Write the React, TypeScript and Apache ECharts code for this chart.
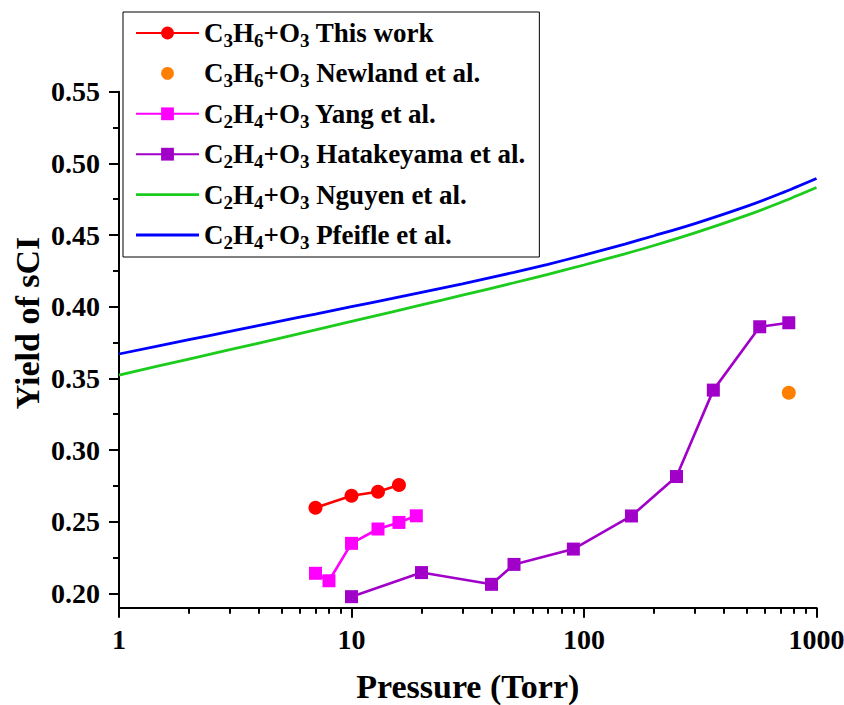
import React, { useEffect, useRef } from "react";
import * as echarts from "echarts";

const FONT = "Liberation Serif";

// Data
const thisWorkP = [7, 10, 13, 16];
const thisWorkY = [0.2597, 0.2681, 0.2709, 0.2756];
const newlandP = [760];
const newlandY = [0.34];
const yangP = [7, 8, 10, 13, 16, 19];
const yangY = [0.214, 0.2088, 0.2349, 0.2449, 0.2495, 0.2541];
const hataP = [10, 20, 40, 50, 90, 160, 250, 360, 570, 760];
const hataY = [0.1977, 0.2145, 0.2063, 0.2202, 0.2309, 0.254, 0.2815, 0.3418, 0.386, 0.3888];
const curveP = [1, 2, 3, 5, 7, 10, 15, 20, 30, 50, 70, 100, 150, 200, 300, 500, 700, 1000];
const nguyenY = [0.3523, 0.3635, 0.37, 0.3783, 0.3838, 0.3897, 0.3964, 0.4012, 0.408, 0.4167, 0.4226, 0.4291, 0.4369, 0.4427, 0.4515, 0.4637, 0.4727, 0.4832];
const pfeifleY = [0.367, 0.377, 0.3828, 0.3901, 0.3949, 0.4, 0.4058, 0.41, 0.416, 0.424, 0.4296, 0.436, 0.4437, 0.4495, 0.458, 0.47, 0.479, 0.4895];

const seriesNames = [
  "C3H6+O3 This work",
  "C3H6+O3 Newland et al.",
  "C2H4+O3 Yang et al.",
  "C2H4+O3 Hatakeyama et al.",
  "C2H4+O3 Nguyen et al.",
  "C2H4+O3 Pfeifle et al.",
];

const yMajorTicks = [0.2, 0.25, 0.3, 0.35, 0.4, 0.45, 0.5, 0.55];
const yMinorTicks = [0.225, 0.275, 0.325, 0.375, 0.425, 0.475, 0.525];
const xMinorTicks = [2, 3, 4, 5, 6, 7, 8, 9, 20, 30, 40, 50, 60, 70, 80, 90, 200, 300, 400, 500, 600, 700, 800, 900];

const xTitle = "Pressure (Torr)";
const yTitle = "Yield of sCI";

const pairs = (xs: number[], ys: number[]) => xs.map((x, i) => [x, ys[i]]);

const LINE_ICON = "path://M0,0 H63 V2.8 H0 Z";

export default function App() {
  const ref = useRef<HTMLDivElement>(null);
  useEffect(() => {
    document.body.style.margin = "0";
    const chart = echarts.init(ref.current!, null, { renderer: "svg" });
    const axisLineStyle = { color: "#000", width: 2 };
    const option: any = {
      animation: false,
      backgroundColor: "#fff",
      grid: { left: 119, right: 27.5, top: 91.7, bottom: 97.3, containLabel: false, outerBoundsMode: "none" },
      legend: {
        orient: "vertical",
        left: 123,
        top: 12,
        padding: [4, 14, 5, 12],
        itemGap: 6.4,
        itemWidth: 63,
        itemHeight: 16,
        backgroundColor: "#fff",
        borderColor: "#000",
        borderWidth: 1,
        borderRadius: 0,
        data: seriesNames.map((n, i) => (i >= 4 ? { name: n, icon: LINE_ICON } : { name: n })),
        formatter: (name: string) => name.replace(/([A-Z])(\d)/g, "$1{s|$2}"),
        textStyle: {
          fontFamily: FONT,
          fontSize: 27,
          fontWeight: "bold",
          color: "#000",
          lineHeight: 34,
          rich: {
            s: {
              fontFamily: FONT,
              fontSize: 19,
              fontWeight: "bold",
              color: "#000",
              lineHeight: 16,
              verticalAlign: "bottom",
            },
          },
        },
      },
      xAxis: [
        {
          type: "log",
          logBase: 10,
          min: 1,
          max: 1000,
          name: xTitle,
          nameLocation: "middle",
          nameGap: 62,
          nameTextStyle: { fontFamily: FONT, fontSize: 34, fontWeight: "bold", color: "#000" },
          axisLine: { show: true, lineStyle: axisLineStyle },
          axisTick: { show: true, length: 10, lineStyle: axisLineStyle },
          axisLabel: {
            fontFamily: FONT,
            fontSize: 28,
            fontWeight: "bold",
            color: "#000",
            margin: 18,
            formatter: (v: number) => String(Math.round(v)),
          },
          splitLine: { show: false },
          minorTick: { show: false },
        },
        {
          type: "log",
          logBase: 10,
          min: 1,
          max: 1000,
          position: "bottom",
          axisLine: { show: false },
          axisTick: { show: true, length: 6, lineStyle: axisLineStyle, customValues: xMinorTicks },
          axisLabel: { show: false },
          splitLine: { show: false },
        },
      ],
      yAxis: [
        {
          type: "value",
          min: 0.19,
          max: 0.55,
          axisLine: { show: true, lineStyle: axisLineStyle },
          axisTick: { show: true, length: 10, lineStyle: axisLineStyle, customValues: yMajorTicks },
          axisLabel: {
            fontFamily: FONT,
            fontSize: 28,
            fontWeight: "bold",
            color: "#000",
            margin: 19,
            customValues: yMajorTicks,
            formatter: (v: number) => v.toFixed(2),
          },
          splitLine: { show: false },
        },
        {
          type: "value",
          min: 0.19,
          max: 0.55,
          position: "left",
          axisLine: { show: false },
          axisTick: { show: true, length: 6, lineStyle: axisLineStyle, customValues: yMinorTicks },
          axisLabel: { show: false },
          splitLine: { show: false },
        },
      ],
      graphic: [
        {
          type: "text",
          x: 27,
          y: 323,
          rotation: Math.PI / 2,
          style: {
            text: yTitle,
            fontFamily: FONT,
            fontSize: 34,
            fontWeight: "bold",
            fill: "#000",
            align: "center",
            verticalAlign: "middle",
          },
        },
      ],
      series: [
        {
          name: seriesNames[4],
          type: "line",
          data: pairs(curveP, nguyenY),
          symbol: "none",
          smooth: 0.3,
          lineStyle: { color: "#1ccc1c", width: 2.8 },
          itemStyle: { color: "#1ccc1c" },
          z: 2,
        },
        {
          name: seriesNames[5],
          type: "line",
          data: pairs(curveP, pfeifleY),
          symbol: "none",
          smooth: 0.3,
          lineStyle: { color: "#0000ff", width: 2.8 },
          itemStyle: { color: "#0000ff" },
          z: 2,
        },
        {
          name: seriesNames[0],
          type: "line",
          data: pairs(thisWorkP, thisWorkY),
          symbol: "circle",
          symbolSize: 14,
          lineStyle: { color: "#ff0000", width: 2.6 },
          itemStyle: { color: "#ff0000" },
          z: 3,
        },
        {
          name: seriesNames[1],
          type: "line",
          data: pairs(newlandP, newlandY),
          symbol: "circle",
          symbolSize: 14,
          lineStyle: { color: "#ff8000", width: 2.6, opacity: 0 },
          itemStyle: { color: "#ff8000" },
          z: 3,
        },
        {
          name: seriesNames[2],
          type: "line",
          data: pairs(yangP, yangY),
          symbol: "rect",
          symbolSize: 13,
          lineStyle: { color: "#ff00ff", width: 2.6 },
          itemStyle: { color: "#ff00ff" },
          z: 3,
        },
        {
          name: seriesNames[3],
          type: "line",
          data: pairs(hataP, hataY),
          symbol: "rect",
          symbolSize: 13,
          lineStyle: { color: "#a000c8", width: 2.6 },
          itemStyle: { color: "#a000c8" },
          z: 3,
        },
      ],
    };
    chart.setOption(option);
    return () => chart.dispose();
  }, []);
  return <div ref={ref} style={{ position: "absolute", left: 0, top: 0, width: 844, height: 705 }} />;
}
